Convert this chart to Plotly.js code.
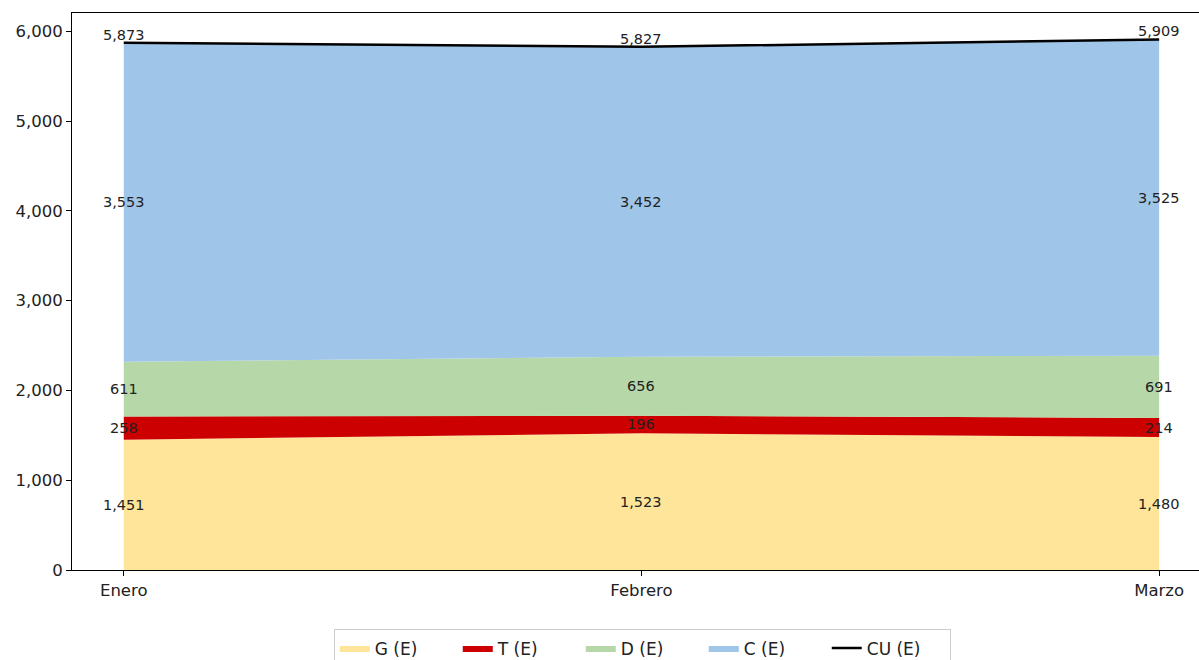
<!DOCTYPE html>
<html>
<head>
<meta charset="utf-8">
<script src="https://cdn.plot.ly/plotly-3.0.1.min.js"></script>
<style>html,body{margin:0;padding:0;background:#fff;}#chart{width:1199px;height:660px;}</style>
</head>
<body>
<div id="chart"></div>
<script>
const months = ["Enero", "Febrero", "Marzo"];
const G = [1451, 1523, 1480];
const T = [258, 196, 214];
const D = [611, 656, 691];
const C = [3553, 3452, 3525];
const CU = [5873, 5827, 5909];
const seriesNames = ["G (E)", "T (E)", "D (E)", "C (E)", "CU (E)"];
const colors = ["#ffe599", "#cc0000", "#b6d7a8", "#9fc5e8", "#000000"];

const xs = months.map((m, i) => i);
const stacks = [G, T, D, C];
const traces = stacks.map((vals, k) => ({
  type: "scatter",
  mode: "lines",
  x: xs,
  y: vals,
  name: seriesNames[k],
  stackgroup: "one",
  fillcolor: colors[k],
  line: {width: 0, color: colors[k]},
  hoverinfo: "skip"
}));
traces.push({
  type: "scatter",
  mode: "lines",
  x: xs,
  y: CU,
  name: seriesNames[4],
  line: {color: "#000000", width: 2.5},
  hoverinfo: "skip"
});

const annotations = [];
const fmt = v => v.toLocaleString("en-US");
xs.forEach((x, i) => {
  let base = 0;
  stacks.forEach(vals => {
    annotations.push({
      x: x, y: base + vals[i] / 2, text: fmt(vals[i]),
      showarrow: false, xanchor: "center", yanchor: "middle",
      font: {family: "DejaVu Sans", size: 14.5, color: "#222"}
    });
    base += vals[i];
  });
  annotations.push({
    x: x, y: CU[i], text: fmt(CU[i]),
    showarrow: false, xanchor: "center", yanchor: "bottom", yshift: -2,
    font: {family: "DejaVu Sans", size: 14.5, color: "#222"}
  });
});

const layout = {
  width: 1199, height: 660,
  margin: {l: 72, r: 0, t: 13, b: 90, autoexpand: false},
  paper_bgcolor: "#fff", plot_bgcolor: "#fff",
  font: {family: "DejaVu Sans", size: 14, color: "#222"},
  showlegend: true,
  legend: {
    orientation: "h", x: 0.506, xanchor: "center", y: -0.1066, yanchor: "top",
    bordercolor: "#cccccc", borderwidth: 1,
    font: {family: "DejaVu Sans", size: 17, color: "#222"},
    traceorder: "normal", entrywidth: 78, entrywidthmode: "pixels"
  },
  xaxis: {
    range: [-0.1, 2.077],
    tickvals: xs, ticktext: months,
    showgrid: false, zeroline: false,
    showline: true, linecolor: "#000", linewidth: 1, mirror: true,
    ticks: "outside", ticklen: 5, tickcolor: "#000",
    tickfont: {family: "DejaVu Sans", size: 16.5, color: "#222"}
  },
  yaxis: {
    range: [0, 6204],
    dtick: 1000, tick0: 0, tickformat: ",d",
    showgrid: false, zeroline: false,
    showline: true, linecolor: "#000", linewidth: 1,
    ticks: "outside", ticklen: 5, tickcolor: "#000",
    tickfont: {family: "DejaVu Sans", size: 16.5, color: "#222"}
  },
  annotations: annotations
};

Plotly.newPlot("chart", traces, layout, {displayModeBar: false, staticPlot: true});
</script>
</body>
</html>
